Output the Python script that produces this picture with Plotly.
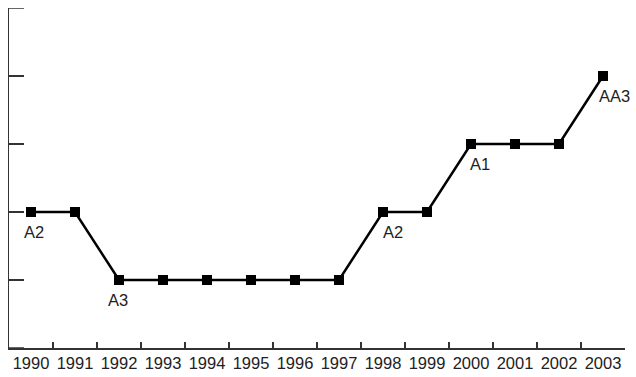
import plotly.graph_objects as go

years = [str(y) for y in range(1990, 2004)]
rating_levels = {"A3": 1, "A2": 2, "A1": 3, "AA3": 4}
ratings = ["A2", "A2", "A3", "A3", "A3", "A3", "A3", "A3", "A2", "A2", "A1", "A1", "A1", "AA3"]
values = [rating_levels[r] for r in ratings]
y_ticks = [0, 1, 2, 3, 4, 5]

label_years = ["1990", "1992", "1998", "2000", "2003"]
label_texts = ["A2", "A3", "A2", "A1", "AA3"]
label_xshift = [3, -1, 10, 9, 11]

FONT = "Liberation Sans, Arial, Helvetica, sans-serif"
PLOT_W = 636 - 9 - 11

fig = go.Figure()
fig.add_trace(go.Scatter(
    x=years, y=values, mode="lines+markers",
    line=dict(color="black", width=2.5),
    marker=dict(symbol="square", size=10, color="black"),
    hoverinfo="skip", showlegend=False, cliponaxis=False,
))

for yr, txt, dx in zip(label_years, label_texts, label_xshift):
    i = years.index(yr)
    fig.add_annotation(
        x=i, y=values[i], text=txt, showarrow=False,
        xanchor="center", yanchor="middle", xshift=dx, yshift=-20,
        font=dict(family=FONT, size=16.5, color="#222"),
    )

# end ticks of the y axis (plotly hides inside ticks at the axis ends)
for yv in (y_ticks[0], y_ticks[-1]):
    fig.add_shape(
        type="line", xref="paper", yref="y",
        x0=0, x1=15 / PLOT_W, y0=yv, y1=yv,
        line=dict(color="#333", width=1.5), layer="above",
    )

fig.update_layout(
    width=636, height=377,
    margin=dict(l=9, r=11, t=8, b=29, autoexpand=False),
    plot_bgcolor="white", paper_bgcolor="white",
    font=dict(family=FONT, size=16.5, color="#222"),
    xaxis=dict(
        type="category", range=[-0.5, 13.5], tickson="boundaries",
        tickangle=0, automargin=False,
        ticks="inside", ticklen=6, tickwidth=1.5, tickcolor="#333",
        showline=True, linecolor="#333", linewidth=1.5,
        showgrid=False, zeroline=False,
    ),
    yaxis=dict(
        range=[0, 5], tickvals=y_ticks, showticklabels=False,
        automargin=False,
        ticks="inside", ticklen=15, tickwidth=1.5, tickcolor="#333",
        showline=True, linecolor="#333", linewidth=1.5,
        showgrid=False, zeroline=False,
    ),
)

fig.write_html(
    "out.html",
    config={"displayModeBar": False, "staticPlot": True},
    post_script="document.body.style.margin='0';document.body.style.overflow='hidden';",
)
